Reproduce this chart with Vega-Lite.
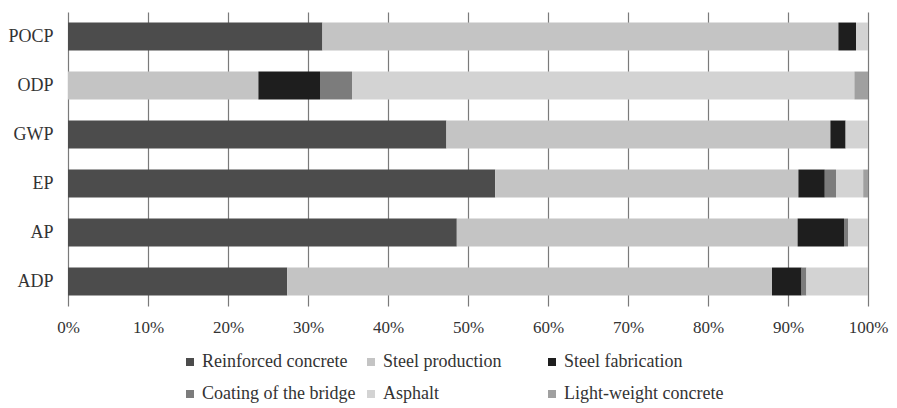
{
  "$schema": "https://vega.github.io/schema/vega-lite/v6.json",
  "width": 800,
  "height": 294,
  "autosize": "none",
  "padding": {"left": 68, "top": 12, "right": 29, "bottom": 102},
  "background": "white",
  "config": {
    "font": "Liberation Serif",
    "view": {"stroke": null},
    "axis": {"labelFont": "Liberation Serif", "labelColor": "#333", "labelFontSize": 17}
  },
  "data": {
    "values": [
      {"cat": "POCP", "series": "Reinforced concrete", "k": 1, "v": 31.8},
      {"cat": "POCP", "series": "Steel production", "k": 2, "v": 64.5},
      {"cat": "POCP", "series": "Steel fabrication", "k": 3, "v": 2.2},
      {"cat": "POCP", "series": "Coating of the bridge", "k": 4, "v": 0},
      {"cat": "POCP", "series": "Asphalt", "k": 5, "v": 1.5},
      {"cat": "POCP", "series": "Light-weight concrete", "k": 6, "v": 0},
      {"cat": "ODP", "series": "Reinforced concrete", "k": 1, "v": 0},
      {"cat": "ODP", "series": "Steel production", "k": 2, "v": 23.8},
      {"cat": "ODP", "series": "Steel fabrication", "k": 3, "v": 7.7},
      {"cat": "ODP", "series": "Coating of the bridge", "k": 4, "v": 4.0},
      {"cat": "ODP", "series": "Asphalt", "k": 5, "v": 62.8},
      {"cat": "ODP", "series": "Light-weight concrete", "k": 6, "v": 1.7},
      {"cat": "GWP", "series": "Reinforced concrete", "k": 1, "v": 47.3},
      {"cat": "GWP", "series": "Steel production", "k": 2, "v": 48.0},
      {"cat": "GWP", "series": "Steel fabrication", "k": 3, "v": 1.9},
      {"cat": "GWP", "series": "Coating of the bridge", "k": 4, "v": 0},
      {"cat": "GWP", "series": "Asphalt", "k": 5, "v": 2.8},
      {"cat": "GWP", "series": "Light-weight concrete", "k": 6, "v": 0},
      {"cat": "EP", "series": "Reinforced concrete", "k": 1, "v": 53.4},
      {"cat": "EP", "series": "Steel production", "k": 2, "v": 37.9},
      {"cat": "EP", "series": "Steel fabrication", "k": 3, "v": 3.3},
      {"cat": "EP", "series": "Coating of the bridge", "k": 4, "v": 1.4},
      {"cat": "EP", "series": "Asphalt", "k": 5, "v": 3.4},
      {"cat": "EP", "series": "Light-weight concrete", "k": 6, "v": 0.6},
      {"cat": "AP", "series": "Reinforced concrete", "k": 1, "v": 48.6},
      {"cat": "AP", "series": "Steel production", "k": 2, "v": 42.6},
      {"cat": "AP", "series": "Steel fabrication", "k": 3, "v": 5.8},
      {"cat": "AP", "series": "Coating of the bridge", "k": 4, "v": 0.5},
      {"cat": "AP", "series": "Asphalt", "k": 5, "v": 2.5},
      {"cat": "AP", "series": "Light-weight concrete", "k": 6, "v": 0},
      {"cat": "ADP", "series": "Reinforced concrete", "k": 1, "v": 27.4},
      {"cat": "ADP", "series": "Steel production", "k": 2, "v": 60.6},
      {"cat": "ADP", "series": "Steel fabrication", "k": 3, "v": 3.7},
      {"cat": "ADP", "series": "Coating of the bridge", "k": 4, "v": 0.6},
      {"cat": "ADP", "series": "Asphalt", "k": 5, "v": 7.7},
      {"cat": "ADP", "series": "Light-weight concrete", "k": 6, "v": 0}
    ]
  },
  "mark": {"type": "bar"},
  "encoding": {
    "y": {
      "field": "cat", "type": "nominal",
      "sort": ["POCP", "ODP", "GWP", "EP", "AP", "ADP"],
      "scale": {"paddingInner": 0.43, "paddingOuter": 0.215},
      "axis": {"title": null, "domain": false, "ticks": false, "labelPadding": 15, "grid": false, "labelFontSize": 18}
    },
    "x": {
      "field": "v", "type": "quantitative", "stack": "normalize",
      "scale": {"domain": [0, 1], "nice": false},
      "axis": {
        "title": null, "format": ".0%", "values": [0, 0.1, 0.2, 0.3, 0.4, 0.5, 0.6, 0.7, 0.8, 0.9, 1],
        "domain": false, "ticks": false, "grid": true, "gridColor": "#7a7a7a", "gridOpacity": 1, "gridWidth": 1.2,
        "labelPadding": 13, "labelFlush": false, "labelOverlap": false
      }
    },
    "color": {
      "field": "series", "type": "nominal",
      "scale": {
        "domain": ["Reinforced concrete", "Steel production", "Steel fabrication", "Coating of the bridge", "Asphalt", "Light-weight concrete"],
        "range": ["#4c4c4c", "#c4c4c4", "#1e1e1e", "#7c7c7c", "#d3d3d3", "#a0a0a0"]
      },
      "legend": {
        "title": null, "orient": "none", "legendX": 113, "legendY": 341, "direction": "horizontal", "columns": 3,
        "symbolType": "square", "symbolSize": 64, "symbolStrokeWidth": 0,
        "labelFont": "Liberation Serif", "labelFontSize": 18, "labelColor": "#333", "labelLimit": 300,
        "columnPadding": 0, "rowPadding": 14, "labelOffset": 3, "gridAlign": "all"
      }
    },
    "order": {"field": "k", "type": "quantitative"}
  }
}
